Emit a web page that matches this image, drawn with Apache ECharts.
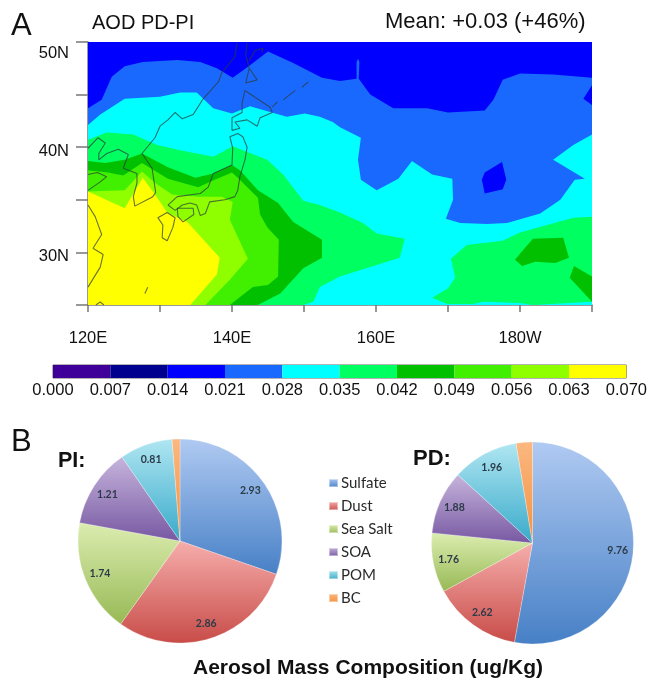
<!DOCTYPE html>
<html><head><meta charset="utf-8">
<style>html,body{margin:0;padding:0;background:#fff}#c{width:650px;height:679px}</style>
<script src="https://cdn.jsdelivr.net/npm/echarts@6/dist/echarts.min.js"></script>
</head><body><div id="c"></div>
<script>
// ---- colour bar ----
const levels = [0.000,0.007,0.014,0.021,0.028,0.035,0.042,0.049,0.056,0.063,0.070];
const levelColors = ['#3f0099','#00008f','#0000ff','#1a69ff','#00ffff','#00ff60','#00c000','#40f000','#8fff00','#ffff00'];
// ---- filled contours, [lon, lat] ----
const band021 = [[120,43.7],[121.9,44.5],[123.3,46.7],[125.1,47.7],[127.6,48.1],[132.4,48.3],[135.6,48.1],[137.9,47.5],[140.1,46.6],[142.5,47.8],[145,49.1],[148.5,48],[152.5,46.6],[155,46.3],[157.3,46.5],[157.3,48.1],[157.5,48.4],[157.7,48.1],[157.6,46.5],[159.2,45],[162.4,43.7],[167.1,43.7],[170,43.3],[175.1,43.5],[176.3,44.5],[177.6,46.4],[180,47],[184.6,46.9],[190,46.6],[190,45.9],[188.8,44.6],[190,44],[190,25],[120,25]];
const hole014 = [[177.5,38.6],[178.1,36.9],[177.6,36],[175.1,35.6],[174.7,36.9],[175.1,37.6]];
const band028 = [[120,42.1],[121.7,43.1],[125.1,44.6],[130,44.8],[132.8,45.2],[135.1,45.2],[137.4,43.7],[140,43.2],[142.5,43.9],[147.6,42.9],[150.1,43.2],[152.2,42.9],[154,42.4],[155,41.9],[157.9,40.9],[157.5,38.8],[157.9,36.9],[160.1,35.9],[163.1,37],[165,38.7],[167.8,37.4],[170.6,37],[170.7,35],[169.7,33.2],[171.7,32.8],[175.4,32.7],[178.2,32.8],[182.8,33.7],[185.6,35],[187.6,36.9],[189,37],[184.6,38.8],[187.4,40.2],[190,41.2],[190,25],[120,25]];
const band035West = [[120,40.7],[122.6,41.4],[126.3,41.2],[129.6,40.2],[132.8,39.7],[137.4,39.1],[140.1,40.1],[144.9,38.8],[147.1,37.4],[149.9,34.9],[152.2,34.5],[155,33.8],[158.2,32.8],[160.1,31.8],[164,31.3],[163.3,29.5],[155,27.7],[152.2,26.7],[151.3,25.3],[149.9,25],[120,25]];
const band035East = [[170.4,29.4],[171,27.6],[170,26.6],[167.8,25.7],[169.9,25.1],[173.5,25.1],[174.9,25.3],[180,25.2],[181.8,25],[190,25.3],[190,33.4],[187.4,33.3],[180,31.9],[177.6,31.1],[172.6,30.7]];
const band042West = [[120,38.7],[122.4,38.5],[125.1,38.8],[127.5,39.4],[131.1,38.1],[134.9,37.1],[137.4,37.5],[140,38.3],[141.1,37.8],[143.6,35.9],[146.4,34.7],[148.5,32.9],[152.5,31.2],[152.5,29.5],[149.9,28.5],[146.7,26.1],[143.6,25],[120,25]];
const band042Patch = [[181.8,31.3],[186,31.4],[186.8,29.5],[184.9,29],[182.1,29.1],[180.3,28.7],[179.3,29.3],[180.4,30.2]];
const band042Corner = [[187.5,28.7],[190,27.7],[190,25.3],[186.9,27.6]];
const band049 = [[120,37.8],[122.8,37.6],[124.9,37.3],[127.5,38.5],[131.1,37],[135.3,36.2],[137.6,36.9],[140,37.6],[140.8,37.1],[143.6,35.2],[143.9,33.6],[144.9,32.4],[146.5,31.2],[146.4,27.7],[145,26.9],[142.9,26.7],[139.7,25],[120,25]];
const band056 = [[120,35.8],[125.1,35.9],[127.5,37.7],[129.3,36.6],[131.7,35.5],[135.3,35.3],[138.6,35.3],[140.1,34.8],[139.7,33.1],[142.2,29.4],[139.7,27.4],[136.3,25],[120,25]];
const band063 = [[120,35.8],[125.1,34.2],[127.6,37.1],[129.3,35.5],[131,33.8],[133.8,32.9],[138.3,29.5],[137.9,27.9],[134.2,25],[120,25]];
// ---- coastlines, [lon, lat] ----
const coastMainland = [[140.7,49.9],[140.4,48.6],[138.6,47.1],[138.1,46.2],[136,44.6],[134.6,43.1],[133.1,42.7],[132.1,43.3],[131.1,42.6],[130,42],[129.3,40.9],[127.5,39.4],[128.9,38],[129.4,35.7],[129,35.3],[126.5,34.4],[126.3,35.3],[126.8,36.6],[126.8,37.5],[124.9,38],[125.6,39.3],[124.2,39.8],[122.6,39.4],[121.5,38.8],[121.5,39.4],[122.4,40.4],[121.4,40.9],[120,39.9]];
const coastShandong = [[120,37.4],[121.3,37.6],[122.6,37.2],[121.7,36.7],[120,35.9]];
const coastChina = [[120,34.5],[121,33.4],[121.9,31.7],[120.7,30.4],[122.1,29.8],[121.7,28.6],[120,26.7]];
const coastTaiwan = [[121.1,25],[121.7,25.3],[122.2,25]];
const coastOkinawa = [[127.9,26.1],[128.3,26.7]];
const coastKyushu = [[131,33.8],[129.7,33.3],[130.4,32.6],[130.3,31.4],[131,31.1],[131.8,32.4],[132.1,33.3],[131,33.8]];
const coastShikoku = [[132.4,34.2],[134.6,34.2],[134.7,33.6],[133.2,32.9],[132.5,33.4],[132.4,34.2]];
const coastHonshu = [[131.1,34.5],[132.4,35.3],[135.6,35.6],[136.7,36.2],[137.4,37.5],[140,38.3],[140.1,39.9],[139.7,41],[140.8,41.3],[141.5,41],[142.1,40],[141.8,38.8],[141.1,37.2],[140.8,35.9],[140.4,35.3],[139,35],[136.9,34.8],[136.3,33.7],[135.6,33.5],[135.1,34.5],[134.2,34.7],[133.1,34.5],[132.1,34],[131.1,34.5]];
const coastHokkaido = [[141.8,45.4],[141.4,44.2],[141.4,43.3],[140,42.8],[140,41.6],[141.1,41.8],[140.4,42.4],[142.1,42.6],[143.5,42],[143.9,42.8],[145.6,43.3],[145.3,43.8],[142.2,45.2],[141.8,45.4]];
const coastSakhalin = [[142.1,49.9],[141.9,48.8],[142.4,47.5],[141.9,46.1],[143.5,46.4],[142.4,47.5]];
const coastSakhalinEast = [[142.4,48.2],[143.2,49.2],[144.3,49.4],[144.2,49]];
const coastKuril1 = [[145.6,43.8],[146.3,44.3]];
const coastKuril2 = [[147.1,44.5],[148.8,45.4]];
const coastKuril3 = [[149.7,45.7],[150.6,46.2]];
// ---- axes ----
const lonLabels = {120:'120E',140:'140E',160:'160E',180:'180W'};
const latLabels = {50:'50N',40:'40N',30:'30N'};
// ---- pies ----
const species = ['Sulfate','Dust','Sea Salt','SOA','POM','BC'];
const piValues = [2.93,2.86,1.74,1.21,0.81,0.12];
const pdValues = [9.76,2.62,1.76,1.88,1.96,0.48];
const speciesLight = ['#b0caf2','#f6aeac','#dcedb0','#c6b4dc','#b0e6f2','#fbb880'];
const speciesDark = ['#4780c6','#c84c48','#97b955','#7758a2','#38aaca','#f49040'];

const FONT = '"Liberation Sans", Arial, sans-serif';
const grad = i => ({type:'linear',x:0,y:0,x2:0,y2:1,colorStops:[{offset:0,color:speciesLight[i]},{offset:1,color:speciesDark[i]}]});
const poly = (pts,colorIdx) => ({
  type:'custom', coordinateSystem:'cartesian2d', xAxisIndex:0, yAxisIndex:0, silent:true,
  data:pts, encode:{x:0,y:1},
  renderItem:(params,api)=> params.dataIndex!==0 ? null : ({
    type:'polygon', shape:{points:pts.map(p=>api.coord(p))},
    style:{fill:levelColors[colorIdx]}
  })
});
const coast = pts => ({
  type:'line', xAxisIndex:0, yAxisIndex:0, data:pts, showSymbol:false, silent:true, clip:true,
  lineStyle:{color:'rgba(45,60,60,0.72)',width:1.1}
});
const pie = (vals,cx,cy,r) => ({
  type:'pie', center:[cx,cy], radius:[0,r], startAngle:90, clockwise:true, silent:true,
  data:species.map((n,i)=>({name:n,value:vals[i],itemStyle:{color:grad(i)},
    label:{show:i<5}})),
  itemStyle:{borderColor:'rgba(255,255,255,0.45)',borderWidth:0.6},
  label:{position:'inside',formatter:p=>p.value.toFixed(2),fontFamily:'Lato, sans-serif',fontSize:10.5,fontWeight:'bold',color:'#2d3b48'},
  labelLine:{show:false},
  labelLayout:p=>{
    const x=p.labelRect.x+p.labelRect.width/2, y=p.labelRect.y+p.labelRect.height/2;
    return {dx:(x-cx)*0.6, dy:(y-cy)*0.6};
  }
});

const chart = echarts.init(document.getElementById('c'),null,{renderer:'canvas'});
const title=(text,left,top,size,weight)=>({text,left,top,padding:0,textStyle:{fontFamily:FONT,fontSize:size,fontWeight:weight||'normal',color:'#111'}});
chart.setOption({
  animation:false,
  backgroundColor:'#fff',
  title:[
    title('A',11,11,31), title('AOD PD-PI',92,13,20), title('Mean: +0.03 (+46%)',385,11,22),
    title('B',11,427,31), title('PI:',58,450,21.5,'bold'), title('PD:',413,448,22,'bold'),
    title('Aerosol Mass Composition (ug/Kg)',193,658,21,'bold')
  ],
  legend:{
    data:species, orient:'vertical', left:328, top:474, padding:0, itemWidth:9, itemHeight:8, itemGap:5, icon:'rect',
    selectedMode:false,
    textStyle:{fontFamily:'Lato, sans-serif',fontSize:15,lineHeight:18,color:'#2a2a2a',padding:[0,0,0,-2]}
  },
  grid:[
    {left:88,top:42,width:504,height:263,containLabel:false},
    {left:53,top:365,width:574,height:13,show:true,borderColor:'#666',borderWidth:1,backgroundColor:'transparent'}
  ],
  xAxis:[
    {type:'value',gridIndex:0,min:120,max:190,interval:10,splitLine:{show:false},
     axisLine:{lineStyle:{color:'#777',width:1.5}},axisTick:{length:7,lineStyle:{color:'#777',width:1.5}},
     axisLabel:{margin:25,fontFamily:FONT,fontSize:16.5,color:'#111',formatter:v=>lonLabels[v]||''}},
    {type:'value',gridIndex:1,min:0,max:levels[levels.length-1],interval:0.007,splitLine:{show:false},
     axisLine:{show:false},axisTick:{show:false},
     axisLabel:{margin:4,fontFamily:FONT,fontSize:16.5,color:'#111',formatter:v=>v.toFixed(3)}}
  ],
  yAxis:[
    {type:'value',gridIndex:0,min:25,max:50,interval:5,splitLine:{show:false},
     axisLine:{lineStyle:{color:'#777',width:1.5}},axisTick:{length:12,lineStyle:{color:'#777',width:1.5}},
     axisLabel:{margin:19,fontFamily:FONT,fontSize:16.5,color:'#111',
       formatter:v=> latLabels[v] ? (v===50?'{t|'+latLabels[v]+'}':'{m|'+latLabels[v]+'}') : '',
       rich:{t:{padding:[22,0,0,0],fontFamily:FONT,fontSize:16.5,color:'#111'},m:{padding:[8,0,0,0],fontFamily:FONT,fontSize:16.5,color:'#111'}}}},
    {type:'value',gridIndex:1,min:0,max:1,show:false}
  ],
  series:[
    {type:'custom',xAxisIndex:0,yAxisIndex:0,silent:true,data:[[120,25],[190,50]],encode:{x:0,y:1},
      renderItem:(params,api)=>{ if(params.dataIndex!==0) return null;
        const a=api.coord([120,50]),b=api.coord([190,25]);
        return {type:'rect',shape:{x:a[0],y:a[1],width:b[0]-a[0],height:b[1]-a[1]},style:{fill:levelColors[2]}};}},
    poly(band021,3), poly(hole014,2), poly(band028,4), poly(band035West,5), poly(band035East,5),
    poly(band042West,6), poly(band042Patch,6), poly(band042Corner,6), poly(band049,7), poly(band056,8), poly(band063,9),
    coast(coastMainland),coast(coastShandong),coast(coastChina),coast(coastTaiwan),coast(coastOkinawa),coast(coastKyushu),
    coast(coastShikoku),coast(coastHonshu),coast(coastHokkaido),coast(coastSakhalin),coast(coastSakhalinEast),
    coast(coastKuril1),coast(coastKuril2),coast(coastKuril3),
    {type:'custom',xAxisIndex:1,yAxisIndex:1,silent:true,
      data:levelColors.map((c,i)=>[levels[i],levels[i+1]]),encode:{x:[0,1]},
      renderItem:(params,api)=>{
        const a=api.coord([api.value(0),1]),b=api.coord([api.value(1),0]);
        return {type:'rect',shape:{x:a[0],y:a[1],width:b[0]-a[0],height:b[1]-a[1]},style:{fill:levelColors[params.dataIndex]}};
      }},
    pie(piValues,180,541,102),
    pie(pdValues,532.5,543,101)
  ]
});
</script></body></html>
